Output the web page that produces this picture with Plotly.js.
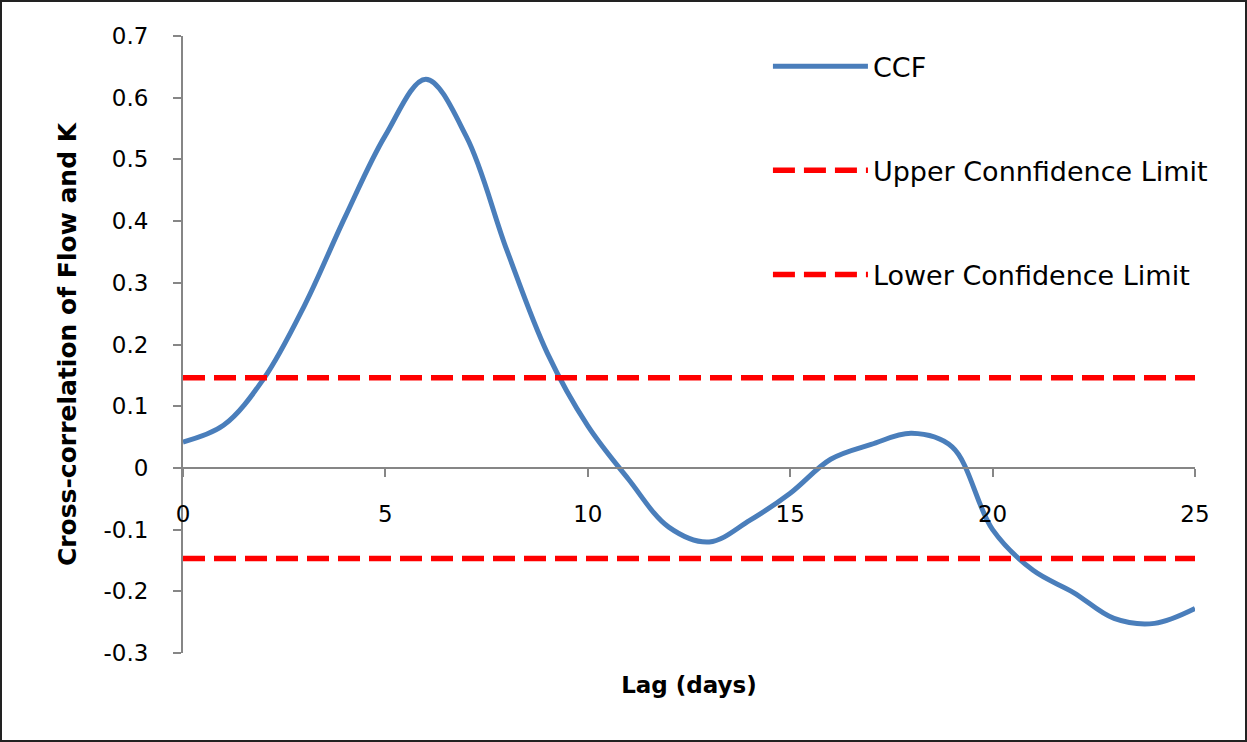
<!DOCTYPE html>
<html>
<head>
<meta charset="utf-8">
<script src="https://cdn.plot.ly/plotly-3.0.1.min.js"></script>
<style>
  html, body { margin: 0; padding: 0; background: #fff; }
  #wrap { width: 1247px; height: 742px; box-sizing: border-box; border: 2px solid #222; overflow: hidden; }
  #chart { width: 1243px; height: 738px; }
</style>
</head>
<body>
<div id="wrap"><div id="chart"></div></div>
<script>
// Lag in days
const lags = [0,1,2,3,4,5,6,7,8,9,10,11,12,13,14,15,16,17,18,19,20,21,22,23,24,25];
// Cross-correlation function values
const ccf = [0.042, 0.069, 0.145, 0.263, 0.406, 0.539, 0.630, 0.537, 0.353, 0.186,
             0.068, -0.018, -0.096, -0.120, -0.085, -0.041, 0.014, 0.038, 0.056, 0.034,
             -0.100, -0.166, -0.202, -0.244, -0.252, -0.228];
// Confidence limits
const upperLimit = 0.146;
const lowerLimit = -0.147;
const seriesNames = ["CCF", "Upper Connfidence Limit", "Lower Confidence Limit"];
const xTitle = "Lag (days)";
const yTitle = "Cross-correlation of Flow and K";

const upper = lags.map(() => upperLimit);
const lower = lags.map(() => lowerLimit);

const FONT = "DejaVu Sans, sans-serif";
const dashRed = { color: "#FF0000", width: 5.5, dash: "22px,9px" };

const traces = [
  { x: lags, y: ccf, name: seriesNames[0], type: "scatter", mode: "lines",
    line: { color: "#4A7EBB", width: 5, shape: "spline", smoothing: 1 }, legendgroup: "a" },
  { x: lags, y: upper, name: seriesNames[1], type: "scatter", mode: "lines",
    line: dashRed, legendgroup: "b" },
  { x: lags, y: lower, name: seriesNames[2], type: "scatter", mode: "lines",
    line: dashRed, legendgroup: "c" }
];

const layout = {
  width: 1243, height: 738,
  margin: { l: 181, r: 50, t: 34, b: 87 },
  paper_bgcolor: "#fff", plot_bgcolor: "#fff",
  font: { family: FONT, color: "#000" },
  showlegend: true,
  legend: {
    x: 0.578, y: 0.99, xanchor: "left", yanchor: "top",
    font: { family: FONT, size: 27, color: "#000" },
    bgcolor: "rgba(0,0,0,0)", itemwidth: 95,
    traceorder: "grouped", tracegroupgap: 66
  },
  xaxis: {
    range: [0, 25], tickvals: [0,5,10,15,20,25], ticktext: ["0","5","10","15","20","25"],
    showgrid: false, zeroline: false,
    showline: true, linecolor: "#868686", linewidth: 2,
    ticks: "outside", ticklen: 8, tickwidth: 2, tickcolor: "#868686",
    anchor: "free", position: 0.3,
    tickfont: { family: FONT, size: 23, color: "#000" },
    ticklabelstandoff: 17,
    title: { text: "<b>" + xTitle + "</b>", font: { family: FONT, size: 23, color: "#000" }, standoff: 150 },
    fixedrange: true
  },
  yaxis: {
    range: [-0.3, 0.7],
    tickvals: [-0.3,-0.2,-0.1,0,0.1,0.2,0.3,0.4,0.5,0.6,0.7],
    ticktext: ["-0.3","-0.2","-0.1","0","0.1","0.2","0.3","0.4","0.5","0.6","0.7"],
    showgrid: false, zeroline: false,
    showline: true, linecolor: "#868686", linewidth: 2,
    ticks: "outside", ticklen: 8, tickwidth: 2, tickcolor: "#868686",
    tickfont: { family: FONT, size: 23, color: "#000" },
    ticklabelstandoff: 20,
    title: { text: "<b>" + yTitle + "</b>", font: { family: FONT, size: 25, color: "#000" }, standoff: 20 },
    fixedrange: true
  }
};

Plotly.newPlot("chart", traces, layout, { displayModeBar: false, staticPlot: true });
</script>
</body>
</html>
